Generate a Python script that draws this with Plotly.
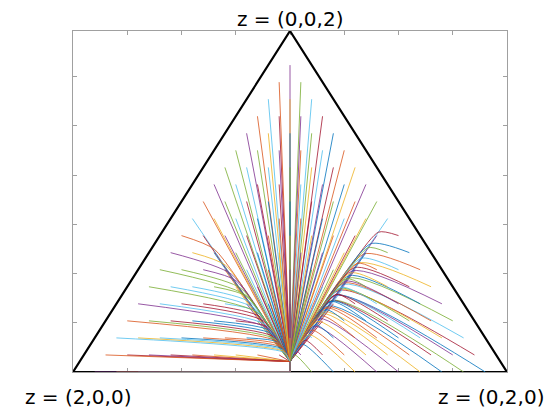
import plotly.graph_objects as go

# MATLAB default line colour order
palette = ["#0072BD", "#D95319", "#EDB120", "#7E2F8E", "#77AC30", "#4DBEEE", "#A2142F"]

H = 3 ** 0.5 / 2  # height of the simplex per unit of z3

# simplex corners (barycentric z2, z3)
corner_z2 = [0.0, 2.0, 0.0, 0.0]
corner_z3 = [0.0, 0.0, 2.0, 0.0]
corner_names = ["z = (2,0,0)", "z = (0,2,0)", "z = (0,0,2)"]

# attracting point and the saddle on the bottom edge (plot coordinates)
sink_x, sink_y = 1.0, 0.053
saddle_x, saddle_y = 1.0, 0.0

# trajectories that run straight to the sink: start (z2, z3)
straight_z2 = [
    0.1, 0.2, 0.3, 0.4, 0.5, 0.6, 0.7, 0.8, 0.9,
    0.9,
    0.7, 0.8, 0.9, 1.0,
    0.6, 0.7, 0.8, 0.9, 1.0,
    0.5, 0.6, 0.7, 0.8, 0.9, 1.0,
    0.4, 0.5, 0.6, 0.7, 0.8, 0.9, 1.0,
    0.3, 0.4, 0.5, 0.6, 0.7, 0.8, 0.9, 1.0,
    0.2, 0.3, 0.4, 0.5, 0.6, 0.7, 0.8, 0.9, 1.0,
    0.1, 0.2, 0.3, 0.4, 0.5, 0.6, 0.7, 0.8, 0.9, 1.0,
    0.1, 0.2, 0.3, 0.4, 0.5, 0.6, 0.7, 0.8, 0.9,
    0.1, 0.2, 0.3, 0.4, 0.5, 0.6, 0.7, 0.8,
    0.1, 0.2, 0.3, 0.4, 0.5, 0.6, 0.7,
    0.1, 0.2, 0.3, 0.4, 0.5, 0.6,
    0.1, 0.2, 0.3, 0.4, 0.5,
    0.1, 0.2, 0.3, 0.4,
    0.1, 0.2, 0.3,
    0.1, 0.2,
    0.1,
]
straight_z3 = [
    0.1, 0.1, 0.1, 0.1, 0.1, 0.1, 0.1, 0.1, 0.1,
    0.2,
    0.3, 0.3, 0.3, 0.3,
    0.4, 0.4, 0.4, 0.4, 0.4,
    0.5, 0.5, 0.5, 0.5, 0.5, 0.5,
    0.6, 0.6, 0.6, 0.6, 0.6, 0.6, 0.6,
    0.7, 0.7, 0.7, 0.7, 0.7, 0.7, 0.7, 0.7,
    0.8, 0.8, 0.8, 0.8, 0.8, 0.8, 0.8, 0.8, 0.8,
    0.9, 0.9, 0.9, 0.9, 0.9, 0.9, 0.9, 0.9, 0.9, 0.9,
    1.0, 1.0, 1.0, 1.0, 1.0, 1.0, 1.0, 1.0, 1.0,
    1.1, 1.1, 1.1, 1.1, 1.1, 1.1, 1.1, 1.1,
    1.2, 1.2, 1.2, 1.2, 1.2, 1.2, 1.2,
    1.3, 1.3, 1.3, 1.3, 1.3, 1.3,
    1.4, 1.4, 1.4, 1.4, 1.4,
    1.5, 1.5, 1.5, 1.5,
    1.6, 1.6, 1.6,
    1.7, 1.7,
    1.8,
]

# trajectories on the left: start (z2, z3) and the point where they meet the left branch
left_z2 = [0.1, 0.2, 0.3, 0.4, 0.5, 0.6, 0.7, 0.8,
           0.1, 0.2, 0.3, 0.4, 0.5, 0.6,
           0.1, 0.2, 0.3, 0.4, 0.5,
           0.1, 0.2, 0.3, 0.4,
           0.1, 0.2, 0.3,
           0.1, 0.2,
           0.1]
left_z3 = [0.2, 0.2, 0.2, 0.2, 0.2, 0.2, 0.2, 0.2,
           0.3, 0.3, 0.3, 0.3, 0.3, 0.3,
           0.4, 0.4, 0.4, 0.4, 0.4,
           0.5, 0.5, 0.5, 0.5,
           0.6, 0.6, 0.6,
           0.7, 0.7,
           0.8]
left_jx = [0.974, 0.971, 0.966, 0.962, 0.956, 0.949, 0.941, 0.932,
           0.938, 0.932, 0.924, 0.916, 0.906, 0.894,
           0.897, 0.887, 0.876, 0.862, 0.847,
           0.850, 0.835, 0.819, 0.799,
           0.795, 0.775, 0.751,
           0.731, 0.703,
           0.653]
left_jy = [0.099, 0.105, 0.112, 0.119, 0.128, 0.140, 0.153, 0.168,
           0.157, 0.168, 0.180, 0.194, 0.211, 0.230,
           0.224, 0.241, 0.260, 0.281, 0.307,
           0.302, 0.325, 0.353, 0.385,
           0.391, 0.424, 0.464,
           0.496, 0.542,
           0.622]

# trajectories on the right: start (z2, z3) and the point where they meet the right branch
right_z2 = [1.1, 1.2, 1.3, 1.4, 1.5, 1.6, 1.7, 1.8, 1.9,
            1.0, 1.1, 1.2, 1.3, 1.4, 1.5, 1.6, 1.7, 1.8,
            1.0, 1.1, 1.2, 1.3, 1.4, 1.5, 1.6, 1.7,
            1.1, 1.2, 1.3, 1.4, 1.5, 1.6,
            1.1, 1.2, 1.3, 1.4, 1.5,
            1.1, 1.2, 1.3, 1.4,
            1.1, 1.2, 1.3,
            1.1, 1.2,
            1.1]
right_z3 = [0.0, 0.0, 0.0, 0.0, 0.0, 0.0, 0.0, 0.0, 0.0,
            0.1, 0.1, 0.1, 0.1, 0.1, 0.1, 0.1, 0.1, 0.1,
            0.2, 0.2, 0.2, 0.2, 0.2, 0.2, 0.2, 0.2,
            0.3, 0.3, 0.3, 0.3, 0.3, 0.3,
            0.4, 0.4, 0.4, 0.4, 0.4,
            0.5, 0.5, 0.5, 0.5,
            0.6, 0.6, 0.6,
            0.7, 0.7,
            0.8]
right_jx = [1.023, 1.057, 1.087, 1.113, 1.137, 1.158, 1.177, 1.194, 1.210,
            1.033, 1.069, 1.100, 1.128, 1.152, 1.174, 1.193, 1.210, 1.226,
            1.085, 1.117, 1.145, 1.170, 1.192, 1.211, 1.228, 1.244,
            1.165, 1.190, 1.212, 1.231, 1.248, 1.264,
            1.213, 1.235, 1.254, 1.271, 1.286,
            1.261, 1.280, 1.296, 1.311,
            1.310, 1.325, 1.339,
            1.359, 1.371,
            1.407]
right_jy = [0.086, 0.141, 0.190, 0.233, 0.271, 0.306, 0.336, 0.364, 0.390,
            0.104, 0.162, 0.213, 0.257, 0.296, 0.331, 0.362, 0.390, 0.415,
            0.187, 0.240, 0.285, 0.325, 0.361, 0.392, 0.420, 0.445,
            0.317, 0.358, 0.393, 0.425, 0.452, 0.477,
            0.395, 0.430, 0.461, 0.489, 0.513,
            0.473, 0.503, 0.530, 0.553,
            0.552, 0.577, 0.599,
            0.631, 0.651,
            0.710]

# trajectories on the bottom-left edge (z3 = 0): start z2
edge_z2 = [0.1, 0.2, 0.3, 0.4, 0.5, 0.6, 0.7, 0.8, 0.9, 1.0]

x_ticks = [0, 0.25, 0.5, 0.75, 1.0, 1.25, 1.5, 1.75, 2.0]
y_ticks = [0, 0.25, 0.5, 0.75, 1.0, 1.25, 1.5]


def to_xy(z2, z3):
    return z2 + z3 / 2, z3 * H


def order(z2, z3):
    a = round(10 * (2 - z2 - z3))
    b = round(10 * z2)
    return 3 + (a - 1) * 20 - (a - 1) * a // 2 + (b - 1)


paths = []
for z2, z3 in zip(straight_z2, straight_z3):
    x0, y0 = to_xy(z2, z3)
    paths.append((order(z2, z3), [x0, sink_x], [y0, sink_y], "linear"))
for z2, z3, jx, jy in zip(left_z2, left_z3, left_jx, left_jy):
    x0, y0 = to_xy(z2, z3)
    paths.append((order(z2, z3), [x0, jx, sink_x], [y0, jy, sink_y], "spline"))
for z2, z3, jx, jy in zip(right_z2, right_z3, right_jx, right_jy):
    x0, y0 = to_xy(z2, z3)
    paths.append((order(z2, z3), [x0, jx, sink_x], [y0, jy, sink_y], "spline"))
for z2 in edge_z2:
    x0, y0 = to_xy(z2, 0.0)
    paths.append((order(z2, 0.0), [x0, saddle_x, sink_x], [y0, saddle_y, sink_y], "linear"))
paths.sort(key=lambda p: p[0])

fig = go.Figure()

tri_x, tri_y = zip(*[to_xy(a, b) for a, b in zip(corner_z2, corner_z3)])
fig.add_trace(go.Scatter(x=list(tri_x), y=list(tri_y), mode="lines",
                         line=dict(color="black", width=2.2), hoverinfo="skip"))

for n, xs, ys, shape in paths:
    fig.add_trace(go.Scatter(
        x=xs, y=ys, mode="lines",
        line=dict(color=palette[n % 7], width=0.8, shape=shape, smoothing=0.6),
        hoverinfo="skip"))

label_font = dict(family="DejaVu Sans, sans-serif", size=20, color="black")
for (cx, cy), name, xs, ys in zip(
        [to_xy(a, b) for a, b in zip(corner_z2[:3], corner_z3[:3])],
        corner_names, [5, -16, 0], [-25, -25, 12]):
    fig.add_annotation(x=cx, y=cy, xref="x", yref="y", text=name, showarrow=False,
                       xanchor="center", yanchor="middle", xshift=xs, yshift=ys,
                       font=label_font)

axis_style = dict(showgrid=False, zeroline=False, showticklabels=False,
                  ticks="inside", ticklen=4, tickwidth=1, tickcolor="#a0a0a0",
                  showline=True, linecolor="#a0a0a0", linewidth=1, mirror="ticks",
                  layer="below traces")
fig.update_xaxes(range=[0, 2], tickvals=x_ticks, **axis_style)
fig.update_yaxes(range=[0, 2 * H], tickvals=y_ticks, **axis_style)

# the page adds an 8 px body margin, so the margins are shifted to compensate
fig.update_layout(width=560, height=420, showlegend=False,
                  margin=dict(l=65, r=61, t=23, b=56),
                  plot_bgcolor="white", paper_bgcolor="white")

fig.write_html("out.html")
